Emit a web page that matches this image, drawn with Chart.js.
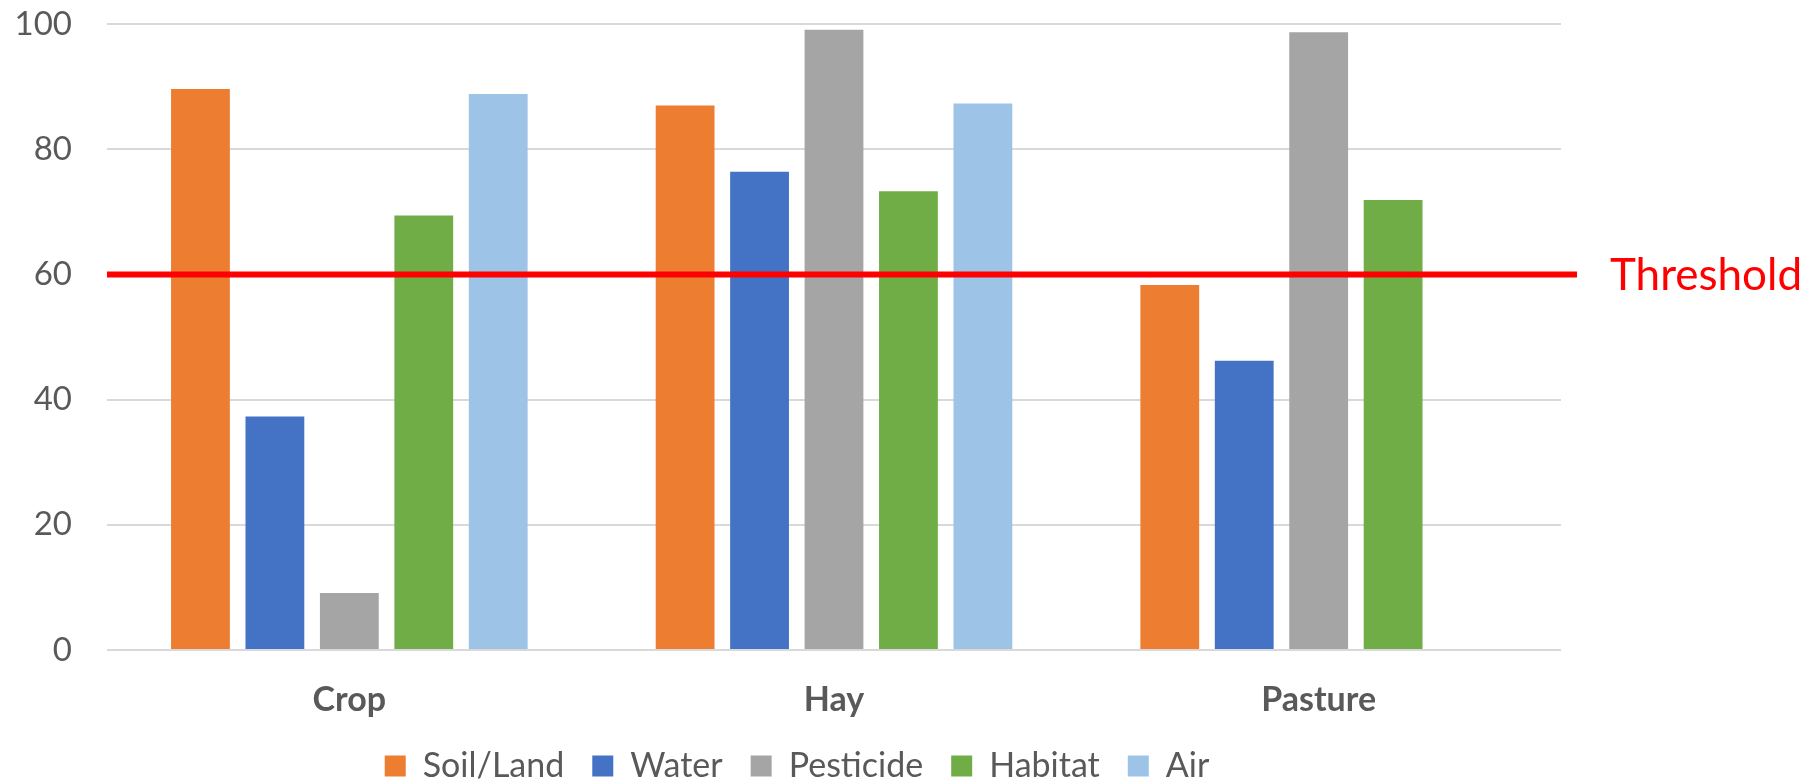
<!DOCTYPE html>
<html>
<head>
<meta charset="utf-8">
<script src="https://cdn.jsdelivr.net/npm/chart.js@4"></script>
<style>
  html, body { margin: 0; padding: 0; background: #fff; }
  #wrap { width: 1809px; height: 782px; }
</style>
</head>
<body>
<div id="wrap"><canvas id="issueChart"></canvas></div>
<script>
// categories and series
const categories = ['Crop', 'Hay', 'Pasture'];
const soilLand  = [89.6, 87.0, 58.3];
const water     = [37.3, 76.4, 46.2];
const pesticide = [9.1, 99.1, 98.7];
const habitat   = [69.4, 73.3, 71.9];
const air       = [88.8, 87.3, null];
const yTicks    = [0, 20, 40, 60, 80, 100];
const threshold = 60;
const thresholdLabel = 'Threshold';

const textColor = '#595959';
const fontFamily = 'Lato, "Open Sans", sans-serif';

// draws the red threshold line + its label
const thresholdPlugin = {
  id: 'thresholdLine',
  afterDatasetsDraw(chart) {
    const { ctx, chartArea, scales } = chart;
    const y = scales.y.getPixelForValue(threshold);
    ctx.save();
    ctx.strokeStyle = '#ff0000';
    ctx.lineWidth = 6;
    ctx.beginPath();
    ctx.moveTo(chartArea.left, y);
    ctx.lineTo(chartArea.right + 16, y);
    ctx.stroke();
    ctx.fillStyle = '#ff0000';
    ctx.font = '44px ' + fontFamily;
    ctx.textAlign = 'left';
    ctx.textBaseline = 'middle';
    ctx.fillText(thresholdLabel, chartArea.right + 49, y + 1);
    ctx.restore();
  }
};

// shrink the legend box so the row sits near the bottom edge,
// and nudge it right (the original legend is centred without the threshold label)
const legendFit = {
  id: 'legendFit',
  beforeInit(chart) {
    const fit = chart.legend.fit;
    chart.legend.fit = function () {
      fit.call(this);
      this.height = 61;
    };
  },
  afterLayout(chart) {
    chart.legend.left += 9;
    chart.legend.right += 9;
  }
};

const ctx = document.getElementById('issueChart').getContext('2d');
new Chart(ctx, {
  type: 'bar',
  data: {
    labels: categories,
    datasets: [
      { label: 'Soil/Land', data: soilLand, backgroundColor: '#ED7D31' },
      { label: 'Water', data: water, backgroundColor: '#4472C4' },
      { label: 'Pesticide', data: pesticide, backgroundColor: '#A5A5A5' },
      { label: 'Habitat', data: habitat, backgroundColor: '#70AD47' },
      { label: 'Air', data: air, backgroundColor: '#9DC3E6' }
    ]
  },
  options: {
    responsive: true,
    maintainAspectRatio: false,
    animation: false,
    categoryPercentage: 0.768,
    barPercentage: 0.79,
    layout: { padding: { left: 15, right: 248, top: 24, bottom: 0 } },
    plugins: {
      tooltip: { enabled: false },
      legend: {
        position: 'bottom',
        labels: {
          boxWidth: 21,
          boxHeight: 21,
          padding: 28,
          color: textColor,
          font: { family: fontFamily, size: 34 }
        }
      }
    },
    scales: {
      x: {
        afterFit(axis) { axis.height = 71; },
        grid: { display: false },
        border: { display: false },
        ticks: {
          color: textColor,
          padding: 22,
          font: { family: fontFamily, size: 34, weight: 'bold' }
        }
      },
      y: {
        min: 0,
        max: 100,
        afterBuildTicks(axis) { axis.ticks = yTicks.map(v => ({ value: v })); },
        afterFit(axis) {
          axis.width = 92;
          axis.paddingTop = 0;
          axis.paddingBottom = 0;
        },
        grid: { color: '#d9d9d9', lineWidth: 2, drawTicks: false },
        border: { display: false },
        ticks: {
          color: textColor,
          padding: 35,
          font: { family: fontFamily, size: 33 }
        }
      }
    }
  },
  plugins: [thresholdPlugin, legendFit]
});
</script>
</body>
</html>
